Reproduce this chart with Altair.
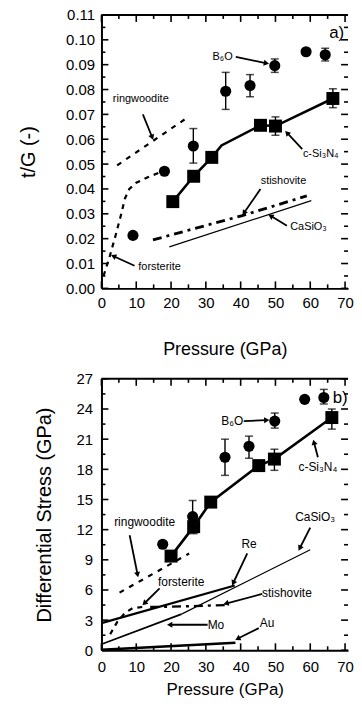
import math
import altair as alt
import pandas as pd
import numpy as np

FONT = "Liberation Sans"
W = 248
XMAX = W / 3.5

# ---------------- panel a) : t/G ----------------
a_b6o_x = [9.05, 18.1, 26.4, 35.7, 42.7, 49.8, 58.8, 64.3]
a_b6o_y = [0.0213, 0.0471, 0.0573, 0.0793, 0.0816, 0.0896, 0.0952, 0.0940]
a_b6o_lo = [None, None, 0.0504, 0.0720, 0.0771, 0.0869, None, 0.0915]
a_b6o_hi = [None, None, 0.0643, 0.0869, 0.0860, 0.0923, None, 0.0966]

a_si_x = [20.5, 26.5, 31.7, 45.7, 50.0, 66.5]
a_si_y = [0.0349, 0.0451, 0.0527, 0.0656, 0.0653, 0.0764]
a_si_lo = [None, None, None, None, 0.0616, 0.0727]
a_si_hi = [None, None, None, None, 0.0690, 0.0803]
a_si_line_x = [20.5, 26.5, 31.7, 34.5, 45.7, 50.0, 66.5]
a_si_line_y = [0.0349, 0.0451, 0.0527, 0.0575, 0.0656, 0.0653, 0.0764]

a_ring_x = [4.5, 25.2]
a_ring_y = [0.0495, 0.0692]
a_fors_x = [0.6, 2.4, 4.0, 5.7, 6.7, 8.0, 10.0, 13.3, 16.5]
a_fors_y = [0.005, 0.013, 0.021, 0.030, 0.036, 0.040, 0.0425, 0.0447, 0.0465]
a_stis_x = [14.8, 40.5, 59.0]
a_stis_y = [0.0195, 0.0293, 0.0372]
a_casio_x = [19.5, 60.3]
a_casio_y = [0.0167, 0.0353]

a_labels = ["a)", "B₆O", "c-Si₃N₄", "ringwoodite", "stishovite", "CaSiO₃", "forsterite"]

# ---------------- panel b) : differential stress ----------------
b_b6o_x = [17.6, 26.2, 35.5, 42.4, 49.8, 58.4, 63.9]
b_b6o_y = [10.55, 13.3, 19.2, 20.3, 22.8, 24.96, 25.15]
b_b6o_lo = [None, 11.7, 17.4, 19.1, 22.1, None, 24.5]
b_b6o_hi = [None, 14.9, 21.0, 21.3, 23.6, None, 25.95]

b_si_x = [20.0, 26.5, 31.4, 45.2, 49.7, 66.2]
b_si_y = [9.37, 12.3, 14.74, 18.37, 19.02, 23.15]
b_si_lo = [None, 11.6, None, None, 17.9, 22.0]
b_si_hi = [None, 13.1, None, None, 20.0, 24.0]

b_ring_x = [5.2, 25.2]
b_ring_y = [5.74, 9.62]
b_fors_x = [2.5, 4.5, 6.7, 9.0, 13.0]
b_fors_y = [1.6, 2.8, 3.7, 4.2, 4.35]
b_stis_x = [14.0, 25.0, 36.0]
b_stis_y = [4.3, 4.38, 4.5]
b_re_x = [0.0, 38.3]
b_re_y = [2.7, 6.45]
b_mo_x = [0.0, 23.0]
b_mo_y = [0.6, 3.6]
b_casio_x = [23.0, 60.0]
b_casio_y = [3.6, 10.0]
b_au_x = [0.0, 38.5]
b_au_y = [0.05, 0.75]

b_labels = ["b)", "B₆O", "c-Si₃N₄", "CaSiO₃", "Re", "ringwoodite", "forsterite", "stishovite", "Mo", "Au"]

# annotation placement (layout, not data)
a_text_pos = [(67.6, 0.1028, 17), (34.8, 0.0932, 11), (63.0, 0.0540, 11), (11.3, 0.0760, 11),
              (52.3, 0.0432, 11), (59.5, 0.0247, 11), (16.7, 0.0087, 11)]
a_arrows = [(38.6, 0.0931, 48.0, 0.0904), (57.7, 0.0560, 52.9, 0.0632), (11.9, 0.0700, 14.8, 0.0600),
            (45.7, 0.0400, 40.6, 0.0296), (53.3, 0.0252, 48.1, 0.0296), (9.5, 0.0091, 2.9, 0.0133)]
b_text_pos = [(68.6, 25.1, 17), (37.6, 22.8, 12), (62.2, 18.27, 12), (61.4, 13.3, 12), (42.4, 10.6, 12),
              (12.4, 12.76, 12), (22.9, 6.82, 12), (53.3, 5.74, 12), (32.9, 2.54, 12), (47.6, 2.7, 12)]
b_arrows = [(40.9, 22.8, 48.1, 22.9), (62.2, 19.2, 60.9, 20.9), (60.0, 12.2, 56.7, 9.96),
            (41.9, 9.63, 37.6, 6.5), (8.1, 11.44, 10.5, 7.32), (16.7, 6.16, 11.9, 4.52),
            (46.2, 5.6, 35.2, 4.6), (30.5, 2.54, 19.0, 2.54), (45.2, 2.2, 38.6, 1.06)]


def arrows_df(arrs, H, YMAX):
    sx = W / XMAX
    sy = H / YMAX
    rows = []
    for (x1, y1, x2, y2) in arrs:
        dx = (x2 - x1) * sx
        dy = -(y2 - y1) * sy
        L = math.hypot(dx, dy)
        ux, uy = dx / L, dy / L
        ang = math.degrees(math.atan2(dx, -dy)) % 360
        back = 3.0
        hx = x2 - ux * back / sx
        hy = y2 + uy * back / sy
        rows.append(dict(x=x1, y=y1, x2=hx, y2=hy, hx=hx, hy=hy, ang=ang))
    return pd.DataFrame(rows)


def build_panel(H, YMAX, yvals, yfmt, ystep, ytitle, lpx, tpx, xtfs, lpy, tpy,
                circ, sq, sq_line, lines, labels, tpos, arrs):
    xs = alt.Scale(domain=[0, XMAX], nice=False, zero=False)
    ys = alt.Scale(domain=[0, YMAX], nice=False, zero=False)
    xax = alt.Axis(values=list(range(0, 71, 10)), title="Pressure (GPa)", ticks=False, tickSize=0,
                   grid=False, domain=True, domainColor="black", domainWidth=2,
                   labelFont=FONT, labelFontSize=15, labelColor="black", labelPadding=lpx,
                   labelFlush=False, labelOverlap=False,
                   titleFont=FONT, titleFontSize=xtfs, titleFontWeight="normal", titleColor="black",
                   titlePadding=tpx)
    yax = alt.Axis(values=yvals, format=yfmt, title=ytitle, ticks=False, tickSize=0,
                   grid=False, domain=True, domainColor="black", domainWidth=2,
                   labelFont=FONT, labelFontSize=15, labelColor="black", labelPadding=lpy,
                   labelFlush=False, labelOverlap=False,
                   titleFont=FONT, titleFontSize=20, titleFontWeight="normal", titleColor="black",
                   titlePadding=tpy)

    def X(f):
        return alt.X(f, type="quantitative", scale=xs, axis=xax)

    def Y(f):
        return alt.Y(f, type="quantitative", scale=ys, axis=yax)

    layers = []
    # frame top line
    layers.append(alt.Chart(pd.DataFrame({"y": [YMAX]})).mark_rule(color="black", strokeWidth=2)
                  .encode(x=alt.value(0), x2=alt.value(W), y=Y("y")))
    # inward ticks
    ymaj = [round(v, 6) for v in yvals]
    ymin = [round(v + ystep / 2, 6) for v in yvals[:-1]]
    xmaj = list(range(0, 71, 10))
    xmin = list(range(5, 70, 10))
    for vals, ln in ((ymaj, 7), (ymin, 4)):
        d = pd.DataFrame({"y": vals})
        layers.append(alt.Chart(d).mark_rule(color="black", strokeWidth=1.6)
                      .encode(y=Y("y"), x=alt.value(0), x2=alt.value(ln)))
        layers.append(alt.Chart(d).mark_rule(color="black", strokeWidth=1.6)
                      .encode(y=Y("y"), x=alt.value(W), x2=alt.value(W - ln)))
    for vals, ln in ((xmaj, 7), (xmin, 4)):
        d = pd.DataFrame({"x": vals})
        layers.append(alt.Chart(d).mark_rule(color="black", strokeWidth=1.6)
                      .encode(x=X("x"), y=alt.value(H), y2=alt.value(H - ln)))
        layers.append(alt.Chart(d).mark_rule(color="black", strokeWidth=1.6)
                      .encode(x=X("x"), y=alt.value(0), y2=alt.value(ln)))

    # reference lines
    for (lx, ly, dash, sw) in lines:
        d = pd.DataFrame({"x": lx, "y": ly})
        kw = dict(color="black", strokeWidth=sw, clip=True)
        if dash:
            kw["strokeDash"] = dash
        layers.append(alt.Chart(d).mark_line(**kw).encode(x=X("x"), y=Y("y")))

    # c-Si3N4 line
    layers.append(alt.Chart(pd.DataFrame({"x": sq_line[0], "y": sq_line[1]}))
                  .mark_line(color="black", strokeWidth=2.6).encode(x=X("x"), y=Y("y")))

    # error bars
    for (px, py, lo, hi) in (circ, sq):
        rows = [dict(x=a, lo=l, hi=h) for a, l, h in zip(px, lo, hi) if l is not None]
        d = pd.DataFrame(rows)
        layers.append(alt.Chart(d).mark_rule(color="black", strokeWidth=1.4)
                      .encode(x=X("x"), y=Y("lo"), y2="hi"))
        layers.append(alt.Chart(d).mark_tick(color="black", orient="horizontal", size=8, thickness=1.5)
                      .encode(x=X("x"), y=Y("lo")))
        layers.append(alt.Chart(d).mark_tick(color="black", orient="horizontal", size=8, thickness=1.5)
                      .encode(x=X("x"), y=Y("hi")))

    # markers
    layers.append(alt.Chart(pd.DataFrame({"x": circ[0], "y": circ[1]}))
                  .mark_point(shape="circle", filled=True, size=125, color="black", opacity=1)
                  .encode(x=X("x"), y=Y("y")))
    layers.append(alt.Chart(pd.DataFrame({"x": sq[0], "y": sq[1]}))
                  .mark_point(shape="square", filled=True, size=170, color="black", opacity=1)
                  .encode(x=X("x"), y=Y("y")))

    # annotations
    td = pd.DataFrame({"t": labels, "x": [p[0] for p in tpos], "y": [p[1] for p in tpos],
                       "fs": [p[2] for p in tpos]})
    layers.append(alt.Chart(td).mark_text(font=FONT, align="center", baseline="middle", color="black")
                  .encode(x=X("x"), y=Y("y"), text="t:N", size=alt.Size("fs:Q", scale=None)))
    ad = arrows_df(arrs, H, YMAX)
    layers.append(alt.Chart(ad).mark_rule(color="black", strokeWidth=1.8)
                  .encode(x=X("x"), y=Y("y"), x2="x2", y2="y2"))
    layers.append(alt.Chart(ad).mark_point(shape="triangle", filled=True, size=38, color="black", opacity=1)
                  .encode(x=X("hx"), y=Y("hy"), angle=alt.Angle("ang:Q", scale=None)))

    return alt.layer(*layers).properties(width=W, height=H)


top = build_panel(
    275, 0.11, [round(i * 0.01, 2) for i in range(12)], ".2f", 0.01, "t/G (-)", 7, 31, 18, 7, 27,
    (a_b6o_x, a_b6o_y, a_b6o_lo, a_b6o_hi), (a_si_x, a_si_y, a_si_lo, a_si_hi),
    (a_si_line_x, a_si_line_y),
    [(a_ring_x, a_ring_y, [5, 6], 2.2), (a_fors_x, a_fors_y, [5, 5], 2.2),
     (a_stis_x, a_stis_y, [9, 5, 3, 5], 2.8), (a_casio_x, a_casio_y, None, 1.2)],
    a_labels, a_text_pos, a_arrows)

bottom = build_panel(
    273, 27, list(range(0, 28, 3)), "d", 3, "Differential Stress (GPa)", 9, 7, 17, 9, 22,
    (b_b6o_x, b_b6o_y, b_b6o_lo, b_b6o_hi), (b_si_x, b_si_y, b_si_lo, b_si_hi),
    (b_si_x, b_si_y),
    [(b_ring_x, b_ring_y, [5, 6], 2.2), (b_fors_x, b_fors_y, [5, 5], 2.2),
     (b_stis_x, b_stis_y, [9, 5, 3, 5], 2.4), (b_re_x, b_re_y, None, 2.2),
     (b_mo_x, b_mo_y, None, 1.8), (b_casio_x, b_casio_y, None, 1.2), (b_au_x, b_au_y, None, 2.6)],
    b_labels, b_text_pos, b_arrows)

chart = alt.vconcat(top, bottom, spacing=91, bounds="flush").properties(
    padding={"left": 10, "top": -2, "right": 0, "bottom": 0}
).configure_view(stroke=None).configure_axis(titleFontWeight="normal")

chart.save("out.html", embed_options={"renderer": "svg", "actions": False})
